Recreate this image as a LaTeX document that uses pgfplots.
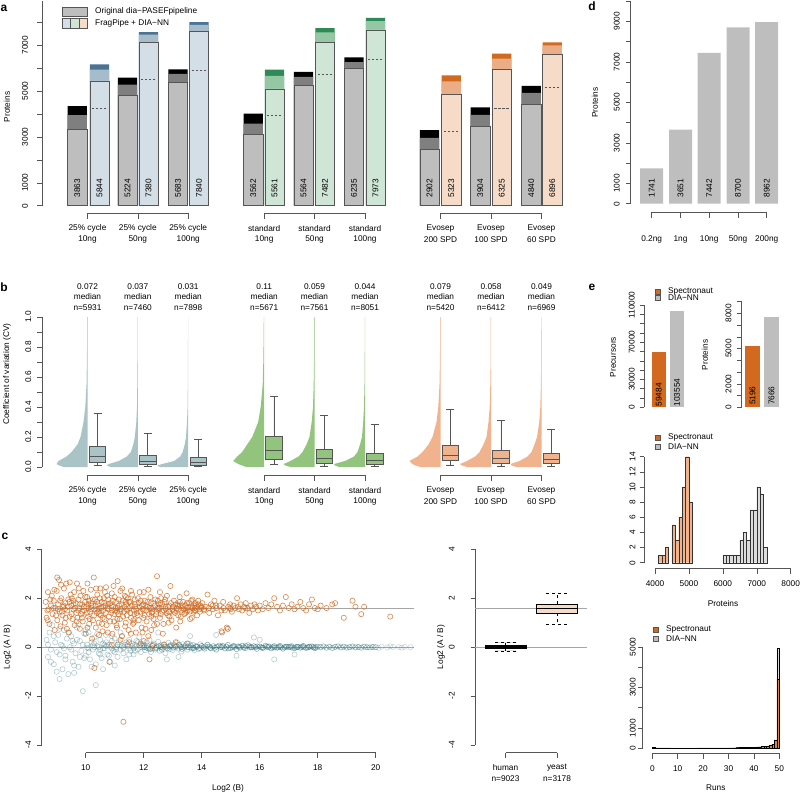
\documentclass[border=0pt]{standalone}
\usepackage{fontspec}
\setmainfont{Liberation Sans}
\usepackage{pgfplots}
\pgfplotsset{compat=1.18}
\usepgfplotslibrary{statistics}
\usepackage{pgfplotstable}
\definecolor{gA}{HTML}{BEBEBE}
\definecolor{gB}{HTML}{7F7F7F}
\definecolor{blA}{HTML}{D4DEE6}
\definecolor{blB}{HTML}{A7BCCB}
\definecolor{blC}{HTML}{4A7394}
\definecolor{grA}{HTML}{CFE6D6}
\definecolor{grB}{HTML}{95C7A5}
\definecolor{grC}{HTML}{2E8B57}
\definecolor{orA}{HTML}{F6DCC8}
\definecolor{orB}{HTML}{EAAD85}
\definecolor{orC}{HTML}{D2691E}
\definecolor{hB}{HTML}{A9C3C6}
\definecolor{hG}{HTML}{93C47D}
\definecolor{hO}{HTML}{F0B38D}
\definecolor{tealc}{HTML}{2F6E78}
\definecolor{axc}{HTML}{555555}
\definecolor{hgrey}{HTML}{DCDCDC}
\def\fs{\fontsize{8.3}{10}\selectfont}
\pgfplotsset{
 R/.style={scale only axis, clip=false, axis x line=none, axis y line*=left, xtick=\empty,
  enlargelimits=false, tick align=outside, major tick length=4.5pt, scaled y ticks=false,
  y axis line style={axc, line width=0.5pt, -}, ytick style={axc, line width=0.5pt},
  yticklabels={},
  boxplot/draw direction=y,
  anchor=south west},
 bb/.style={ybar, bar shift=0pt, bar width=#1, draw=none},
}
\pgfplotstableread{
cv w1 w2 w3 w4 w5 w6 w7 w8 w9
0 0 0 0 0 0 0 0 0 0
0 24 27 28 18 24 26 20 24 25
0.01 28 31 31 22 29 30 25 29 30
0.02 31 29 26 26 31 31 28 31 31
0.04 29 19 14 31 24 20 31 24 22
0.07 21 11 8 27 16 11 23 16 14
0.1 16 7 5.5 22 12 7.5 18 11.5 10
0.15 10 4.5 3.5 17 8 5 12 7.5 7
0.2 7 3 2.2 12 5 3 8 4.5 4.5
0.3 4 1.5 1.2 6 2.8 1.8 4 2.5 2.2
0.4 2.2 0.8 0.6 3.5 1.5 1 2.2 1.3 1.2
0.55 1 0.5 0.4 1.5 0.8 0.5 1 0.7 0.6
0.7 0.6 0.3 0.3 0.9 0.5 0.3 0.6 0.4 0.4
0.85 0.4 0.2 0.2 0.6 0.3 0.2 0.4 0.3 0.3
1 0.3 0.2 0.2 0.4 0.3 0.2 0.3 0.3 0.2
1 0 0 0 0 0 0 0 0 0
}\cvtab
\begin{document}
\fs
\begin{tikzpicture}[x=1pt,y=1pt, t/.style={inner sep=0pt, font=\fs}, L/.style={inner sep=0pt, font=\bfseries\fontsize{12}{14}\selectfont}]
\path[use as bounding box] (0,0) rectangle (800,-793);

% ================= panel a =================
\begin{axis}[R, at={(42pt,-205.7pt)}, width=533pt, height=204.3pt, xmin=42, xmax=575, ymin=0, ymax=8900,
  ytick={0,1000,2000,3000,4000,5000,6000,7000,8000}]
\addplot[bb=19.3, fill=black] coordinates {(77.2,4333)(127.5,5579)(178,5941)(253.3,4014)(303.5,5825)(354,6463)(429.5,3289)(480.3,4289)(531.3,5216)};
\addplot[bb=19.3, fill=gB] coordinates {(77.2,3941)(127.5,5274)(178,5738)(253.3,3579)(303.5,5608)(354,6260)(429.5,2956)(480.3,3956)(531.3,4912)};
\addplot[bb=19.3, fill=gA, draw=axc, line width=0.5pt] coordinates {(77.2,3318)(127.5,4796)(178,5361)(253.3,3101)(303.5,5231)(354,5970)(429.5,2463)(480.3,3449)(531.3,4405)};
\addplot[bb=19.3, fill=blC] coordinates {(99.5,6159)(148.5,7564)(199,7998)};
\addplot[bb=19.3, fill=blB] coordinates {(99.5,5927)(148.5,7448)(199,7883)};
\addplot[bb=19.3, fill=blA, draw=axc, line width=0.5pt] coordinates {(99.5,5434)(148.5,7100)(199,7593)};
\addplot[bb=19.3, fill=grC] coordinates {(274.5,5927)(325,7738)(375.5,8187)};
\addplot[bb=19.3, fill=grB] coordinates {(274.5,5651)(325,7549)(375.5,8042)};
\addplot[bb=19.3, fill=grA, draw=axc, line width=0.5pt] coordinates {(274.5,5086)(325,7129)(375.5,7665)};
\addplot[bb=19.3, fill=orC] coordinates {(451.3,5680)(501.8,6622)(552.2,7115)};
\addplot[bb=19.3, fill=orB] coordinates {(451.3,5419)(501.8,6405)(552.2,6984)};
\addplot[bb=19.3, fill=orA, draw=axc, line width=0.5pt] coordinates {(451.3,4840)(501.8,5941)(552.2,6593)};
\addplot[axc, dash pattern=on 2.4pt off 1.6pt, unbounded coords=jump] coordinates {
(92,4231)(107,4231)(100,nan)(141,5492)(156,5492)(150,nan)(191.5,5883)(206.5,5883)(200,nan)
(267,3927)(282,3927)(280,nan)(317.5,5709)(332.5,5709)(330,nan)(368,6361)(383,6361)(380,nan)
(443.8,3246)(458.8,3246)(450,nan)(494.3,4231)(509.3,4231)(500,nan)(544.7,5144)(559.7,5144)};
\foreach \x/\v in {77.2/3863,99.5/5844,127.5/5224,148.5/7380,178/5683,199/7840,253.3/3562,274.5/5561,303.5/5564,325/7482,354/6235,375.5/7973,429.5/2902,451.3/5323,480.3/3904,501.8/6325,531.3/4840,552.2/6896}
  {\edef\tmp{\noexpand\node[t, rotate=90] at (axis cs:\x,770) {\v};}\tmp}
\end{axis}
\foreach \yy/\l in {205.7/0,182.7/1000,136.8/3000,90.9/5000,45.0/7000} {\node[t, rotate=90] at (25,-\yy) {\l};}
\node[L] at (4,-8) {a};
% legend a
\draw[axc, fill=gA, line width=0.4pt] (62,-7) rectangle (87,-16.5);
\node[t, anchor=west] at (95,-11.5) {Original dia−PASEFpipeline};
\draw[axc, fill=blA, line width=0.4pt] (62,-18.5) rectangle (70.3,-28);
\draw[axc, fill=grA, line width=0.4pt] (70.3,-18.5) rectangle (78.7,-28);
\draw[axc, fill=orA, line width=0.4pt] (78.7,-18.5) rectangle (87,-28);
\node[t, anchor=west] at (95,-23) {FragPipe + DIA−NN};
% brackets a and b
\foreach \yy/\yt in {213.3/218.8,475/480.5} {
 \draw[axc, line width=0.5pt] (87.5,-\yy) -- (188.2,-\yy);
 \draw[axc, line width=0.5pt] (264.2,-\yy) -- (365,-\yy);
 \draw[axc, line width=0.5pt] (440.5,-\yy) -- (541.5,-\yy);
 \foreach \x in {87.5,137.8,188.2,264.2,314.5,365,440.5,491,541.5} \draw[axc, line width=0.5pt] (\x,-\yy) -- (\x,-\yt);
}
\foreach \yy/\yb in {228.7/239.2,490.7/501.2} {
 \node[t] at (87.5,-\yy) {25\% cycle}; \node[t] at (87.5,-\yb) {10ng};
 \node[t] at (137.8,-\yy) {25\% cycle}; \node[t] at (137.8,-\yb) {50ng};
 \node[t] at (188.2,-\yy) {25\% cycle}; \node[t] at (188.2,-\yb) {100ng};
 \node[t] at (264.2,-\yy) {standard}; \node[t] at (264.2,-\yb) {10ng};
 \node[t] at (314.5,-\yy) {standard}; \node[t] at (314.5,-\yb) {50ng};
 \node[t] at (365,-\yy) {standard}; \node[t] at (365,-\yb) {100ng};
 \node[t] at (440.5,-\yy) {Evosep}; \node[t] at (440.5,-\yb) {200 SPD};
 \node[t] at (491,-\yy) {Evosep}; \node[t] at (491,-\yb) {100 SPD};
 \node[t] at (541.5,-\yy) {Evosep}; \node[t] at (541.5,-\yb) {60 SPD};
}
\node[t, rotate=90] at (7,-107) {Proteins};

% ================= panel b =================
\begin{axis}[R, at={(42pt,-467pt)}, width=533pt, height=150pt, xmin=42, xmax=575, ymin=0, ymax=1,
  ytick={0,0.1,0.2,0.3,0.4,0.5,0.6,0.7,0.8,0.9,1}]
\addplot[fill=hB, draw=none] table[x expr=87.5-\thisrow{w1}, y=cv] {\cvtab};
\addplot[fill=hB, draw=none] table[x expr=137.8-\thisrow{w2}, y=cv] {\cvtab};
\addplot[fill=hB, draw=none] table[x expr=188.2-\thisrow{w3}, y=cv] {\cvtab};
\addplot[fill=hG, draw=none] table[x expr=264.2-\thisrow{w4}, y=cv] {\cvtab};
\addplot[fill=hG, draw=none] table[x expr=314.5-\thisrow{w5}, y=cv] {\cvtab};
\addplot[fill=hG, draw=none] table[x expr=365-\thisrow{w6}, y=cv] {\cvtab};
\addplot[fill=hO, draw=none] table[x expr=440.5-\thisrow{w7}, y=cv] {\cvtab};
\addplot[fill=hO, draw=none] table[x expr=491-\thisrow{w8}, y=cv] {\cvtab};
\addplot[fill=hO, draw=none] table[x expr=541.5-\thisrow{w9}, y=cv] {\cvtab};
\pgfplotsset{bx/.style={boxplot prepared={box extend=16.4, whisker extend=8}, draw=axc, line width=0.5pt}}
\addplot[bx, fill=hB, boxplot prepared={draw position=97.5, median=0.073, lower quartile=0.031, upper quartile=0.14, lower whisker=0.011, upper whisker=0.358}] coordinates {};
\addplot[bx, fill=hB, boxplot prepared={draw position=147.6, median=0.037, lower quartile=0.018, upper quartile=0.08, lower whisker=0.005, upper whisker=0.225}] coordinates {};
\addplot[bx, fill=hB, boxplot prepared={draw position=198, median=0.031, lower quartile=0.015, upper quartile=0.065, lower whisker=0.004, upper whisker=0.182}] coordinates {};
\addplot[bx, fill=hG, boxplot prepared={draw position=273.9, median=0.113, lower quartile=0.051, upper quartile=0.207, lower whisker=0.016, upper whisker=0.469}] coordinates {};
\addplot[bx, fill=hG, boxplot prepared={draw position=324.4, median=0.06, lower quartile=0.024, upper quartile=0.118, lower whisker=0.008, upper whisker=0.342}] coordinates {};
\addplot[bx, fill=hG, boxplot prepared={draw position=374.7, median=0.044, lower quartile=0.02, upper quartile=0.091, lower whisker=0.006, upper whisker=0.282}] coordinates {};
\addplot[bx, fill=hO, boxplot prepared={draw position=450.3, median=0.08, lower quartile=0.042, upper quartile=0.145, lower whisker=0.015, upper whisker=0.385}] coordinates {};
\addplot[bx, fill=hO, boxplot prepared={draw position=500.8, median=0.058, lower quartile=0.028, upper quartile=0.115, lower whisker=0.008, upper whisker=0.31}] coordinates {};
\addplot[bx, fill=hO, boxplot prepared={draw position=551, median=0.051, lower quartile=0.022, upper quartile=0.095, lower whisker=0.006, upper whisker=0.251}] coordinates {};
\end{axis}
\foreach \yy/\l in {467/0.0,437/0.2,407/0.4,377/0.6,347/0.8,317/1.0} {\node[t, rotate=90] at (28.3,-\yy) {\l};}
\node[L] at (4,-287) {b};
\node[t, rotate=90] at (7,-374) {Coefficient of variation (CV)};
\foreach \x/\m/\n in {87.5/0.072/5931,137.8/0.037/7460,188.2/0.031/7898,264.2/0.11/5671,314.5/0.059/7561,365/0.044/8051,440.5/0.079/5420,491/0.058/6412,541.5/0.049/6969} {
 \node[t] at (\x,-286.7) {\m}; \node[t] at (\x,-297) {median}; \node[t] at (\x,-307.3) {n=\n};
}

% ================= panel c =================
\begin{axis}[R, at={(41.7pt,-745pt)}, width=372.3pt, height=195.7pt, xmin=8.483, xmax=21.32, ymin=-4, ymax=4,
  ytick={-4,-2,0,2,4}]
\addplot[gray!70, line width=0.6pt] coordinates {(8.483,0)(21.32,0)};
\addplot[gray!70, line width=0.6pt] coordinates {(8.483,1.585)(21.32,1.585)};
\addplot[only marks, mark=o, mark size=2.6pt, mark options={draw=tealc, draw opacity=0.35, line width=0.6pt}] coordinates {
(8.65,0.3)(8.7,-0.4)(8.75,0.6)(8.8,-0.1)(8.85,0.9)(8.9,-0.7)(8.95,0.2)(9.0,-1.0)(9.05,0.5)(9.1,-0.3)(9.15,0.1)(9.2,-0.9)(9.25,0.7)(9.3,-0.5)(9.35,0.35)(9.4,-1.1)(9.45,0.0)(9.5,0.45)(9.55,-0.6)(9.6,0.15)(9.65,-0.25)(9.7,0.8)(9.75,-0.8)(9.8,0.25)(9.85,-0.15)(9.9,-1.8)(9.95,0.55)
(10.0,-0.35)(10.05,0.1)(10.1,0.6)(10.15,-0.5)(10.2,0.2)(10.25,-0.1)(10.3,0.4)(10.35,-0.7)(10.4,0.05)(10.45,-0.25)(10.5,0.3)(10.55,-0.45)(10.6,0.15)(10.65,-0.05)(10.7,0.5)(10.75,-0.3)(10.8,0.1)(10.85,-0.6)(10.9,0.25)(10.95,-0.15)(11.0,0.35)(11.05,0.0)(11.1,-0.4)(11.15,0.2)(11.2,-0.1)(11.25,0.45)(11.3,-0.25)(11.35,0.1)(11.4,-0.5)(11.45,0.05)(11.5,0.3)(11.55,-0.15)(11.6,0.15)(11.65,-0.3)(11.7,0.0)(11.75,0.25)(11.8,-0.1)(11.85,0.4)(11.9,-0.2)(11.95,0.05)
(10.1,-0.05)(10.3,0.0)(10.5,-0.1)(10.7,0.05)(10.9,-0.05)(11.1,0.1)(11.3,0.0)(11.5,-0.05)(11.7,0.1)(11.9,0.0)
(8.7,0.1)(8.8,-0.6)(8.9,0.45)(9.0,-0.2)(9.1,0.75)(9.2,0.05)(9.3,-0.35)(9.4,0.6)(9.5,-0.1)(9.6,-0.75)(9.7,0.3)(9.8,-0.4)(9.9,0.1)(10.0,0.7)(10.1,-0.2)(10.2,-0.8)(10.3,0.15)(10.4,0.55)(10.5,-0.3)(10.6,-0.05)(10.7,0.2)(10.8,-0.35)(10.9,0.45)(11.0,-0.2)(11.1,0.1)(11.2,0.6)(11.3,-0.05)(11.4,0.2)(11.5,-0.3)(11.6,0.05)(11.7,-0.15)(11.8,0.2)(11.9,0.1)(10.05,-0.02)(10.25,0.08)(10.45,0.0)(10.65,0.1)(10.85,0.02)(11.05,-0.08)(11.25,0.05)(11.45,0.12)(11.65,-0.05)(11.85,0.07)
(9.1,-1.3)(9.6,-1.05)(10.35,-1.55)(9.75,0.95)(10.6,-0.9)(11.0,-0.75)(9.25,-0.05)(9.55,0.25)(9.95,-0.45)
(12.0,0.1)(12.05,-0.12)(12.1,0.2)(12.15,-0.05)(12.2,0.3)(12.25,-0.2)(12.3,0.05)(12.35,0.15)(12.4,-0.1)(12.45,0.0)(12.5,0.22)(12.55,-0.15)(12.6,0.08)(12.65,-0.03)(12.7,0.12)(12.75,-0.25)(12.8,0.02)(12.85,0.18)(12.9,-0.08)(12.95,0.05)(13.0,-0.12)(13.05,0.1)(13.1,0.0)(13.15,0.2)(13.2,-0.06)(13.25,0.04)(13.3,-0.18)(13.35,0.12)(13.4,-0.02)(13.45,0.08)(13.5,-0.1)(13.55,0.15)(13.6,0.0)(13.65,-0.05)(13.7,0.1)(13.75,-0.12)(13.8,0.05)(13.85,0.02)(13.9,-0.08)(13.95,0.12)
(12.5,0.6)(13.2,-0.4)(12.8,-0.5)(13.6,0.45)
(14.5,0.5)(15.2,-0.35)(16.5,-0.5)(14.9,0.75)(15.8,0.4)(17.2,-0.3)(16.0,0.3)
};
\addplot[only marks, mark=o, mark size=2.6pt, mark options={draw=tealc, draw opacity=0.55, line width=0.6pt}] coordinates {
(12.1,-0.02)(12.3,-0.05)(12.6,0.0)(12.9,0.03)(13.3,0.01)(13.7,-0.02)
(12.02,0.0)(12.12,0.06)(12.22,-0.08)(12.32,0.1)(12.42,-0.04)(12.52,0.04)(12.62,-0.1)(12.72,0.02)(12.82,-0.05)(12.92,0.08)(13.02,-0.02)(13.12,0.05)(13.22,0.1)(13.32,-0.07)(13.42,0.03)(13.52,0.0)(13.62,0.07)(13.72,-0.04)(13.82,0.02)(13.92,-0.03)
(14.0,0.05)(14.1,-0.06)(14.2,0.1)(14.3,-0.02)(14.4,0.04)(14.5,-0.1)(14.6,0.07)(14.7,0.0)(14.8,-0.05)(14.9,0.09)(15.0,-0.03)(15.1,0.05)(15.2,-0.08)(15.3,0.02)(15.4,0.06)(15.5,-0.04)(15.6,0.08)(15.7,-0.01)(15.8,0.04)(15.9,-0.07)(16.0,0.03)(16.1,-0.03)(16.2,0.06)(16.3,0.0)(16.4,-0.05)(16.5,0.04)(16.6,-0.02)(16.7,0.05)(16.8,-0.06)(16.9,0.02)(17.0,0.0)(17.1,0.04)(17.2,-0.04)(17.3,0.02)(17.4,-0.02)(17.5,0.05)(17.6,-0.03)(17.7,0.01)(17.8,0.03)(17.9,-0.04)(18.0,0.02)
(14.05,-0.01)(14.25,0.02)(14.45,-0.03)(14.65,0.01)(14.85,0.02)(15.05,0.0)(15.25,0.03)(15.45,-0.01)(15.65,0.02)(15.85,0.0)(16.05,-0.01)(16.25,0.02)(16.45,0.0)(16.65,0.01)(16.85,-0.01)(17.05,0.02)(17.25,0.0)(17.45,0.01)(17.65,-0.01)(17.85,0.0)
(14.12,0.03)(14.32,-0.05)(14.52,0.02)(14.72,0.05)(14.92,-0.04)(15.12,0.01)(15.32,-0.02)(15.52,0.04)(15.72,0.0)(15.92,0.03)(16.12,-0.02)(16.32,0.03)(16.52,-0.01)(16.72,0.0)(16.92,0.02)(17.12,-0.02)(17.32,0.01)(17.52,0.0)(17.72,0.02)(17.92,0.0)
(18.1,0.0)(18.2,0.03)(18.3,-0.02)(18.4,0.02)(18.5,-0.03)(18.6,0.01)(18.7,0.03)(18.8,-0.01)(18.9,0.02)(19.0,-0.02)(19.1,0.0)(19.2,0.03)(19.3,-0.01)(19.4,0.01)(19.5,-0.02)(19.6,0.02)(19.7,0.0)(19.8,-0.01)(19.9,0.01)(20.0,0.0)
};
\addplot[only marks, mark=o, mark size=2.6pt, mark options={draw=tealc, draw opacity=0.25, line width=0.6pt}] coordinates {
(20.2,0.02)(20.4,-0.01)(20.6,0.01)(20.8,0.0)(21.0,0.01)(21.2,0.0)(20.1,-0.03)(20.5,0.03)(20.9,-0.02)
};
\addplot[only marks, mark=o, mark size=2.6pt, mark options={draw=orC, draw opacity=0.8, line width=0.6pt}] coordinates {
(8.62,1.85)(8.65,1.2)(8.7,2.25)(8.72,1.55)(8.75,0.95)(8.8,1.7)(8.83,2.1)(8.86,1.35)(8.9,1.9)(8.93,0.7)(8.96,1.6)(9.0,2.3)(9.02,1.1)(9.05,1.75)(9.08,2.75)(9.1,1.45)(9.13,0.85)(9.16,2.0)(9.2,1.3)(9.22,1.65)(9.25,2.4)(9.28,1.0)(9.3,1.8)(9.33,2.6)(9.36,1.5)(9.4,1.95)(9.42,0.6)(9.45,1.25)(9.48,2.15)
(9.5,1.7)(9.52,2.0)(9.55,1.15)(9.58,1.55)(9.6,2.25)(9.62,0.9)(9.65,1.8)(9.68,1.4)(9.7,2.6)(9.72,1.2)(9.75,1.95)(9.78,1.6)(9.8,0.75)(9.82,2.1)(9.85,1.35)(9.88,1.75)(9.9,1.05)(9.92,2.3)(9.95,1.5)(9.98,1.85)(10.0,0.55)(10.02,1.65)(10.05,2.05)(10.08,1.25)(10.1,1.9)(10.12,0.95)(10.15,1.45)(10.18,2.35)(10.2,1.7)(10.22,0.35)(10.25,1.1)(10.28,2.85)(10.3,1.55)(10.32,1.95)(10.35,0.8)(10.38,1.4)(10.4,2.15)(10.42,1.75)(10.45,1.0)(10.48,1.6)
(10.5,2.4)(10.52,1.3)(10.55,1.85)(10.58,0.65)(10.6,1.5)(10.62,2.0)(10.65,1.15)(10.68,1.7)(10.7,2.45)(10.72,0.9)(10.75,1.6)(10.78,1.95)(10.8,1.25)(10.82,-0.6)(10.85,1.8)(10.88,1.4)(10.9,2.2)(10.92,0.55)(10.95,1.65)(10.98,1.05)(11.0,2.05)(11.02,1.5)(11.05,1.85)(11.08,0.8)(11.1,2.7)(11.12,1.35)(11.15,1.7)(11.18,1.15)(11.2,2.3)(11.22,1.55)(11.25,0.45)(11.28,1.9)(11.3,-3.05)(11.32,1.45)(11.35,2.1)(11.38,1.0)(11.4,1.75)(11.42,1.3)(11.45,2.0)(11.48,0.7)
(11.5,1.6)(11.53,1.85)(11.56,1.2)(11.6,2.15)(11.63,0.95)(11.66,1.5)(11.7,1.75)(11.73,0.6)(11.76,1.4)(11.8,2.0)(11.83,1.1)(11.86,1.65)(11.9,1.9)(11.93,0.8)(11.96,1.55)(12.0,2.25)(12.03,1.3)(12.06,1.7)(12.1,1.05)(12.13,1.85)(12.16,0.45)(12.2,1.6)(12.23,2.05)(12.26,1.25)(12.3,1.45)(12.33,1.8)(12.36,0.9)(12.4,1.95)(12.43,1.35)(12.46,2.9)(12.48,1.6)
(12.52,1.75)(12.56,1.2)(12.6,2.0)(12.64,1.45)(12.68,0.95)(12.72,1.85)(12.76,1.55)(12.8,2.1)(12.84,1.3)(12.88,1.7)(12.92,2.5)(12.96,1.1)(13.0,1.65)(13.04,1.9)(13.08,1.4)(13.12,0.8)(13.16,1.75)(13.2,1.55)(13.24,2.05)(13.28,1.25)(13.32,1.6)(13.36,1.85)(13.4,1.35)(13.44,1.7)(13.48,2.2)(13.52,1.5)(13.56,1.8)(13.6,1.15)(13.64,1.65)(13.68,1.95)(13.72,1.45)(13.76,1.6)(13.8,1.75)(13.84,1.3)(13.88,1.9)(13.92,1.55)(13.96,1.7)
(14.02,1.8)(14.08,1.5)(14.14,1.65)(14.2,2.15)(14.26,1.4)(14.32,1.75)(14.38,1.55)(14.44,1.9)(14.5,1.6)(14.56,1.3)(14.62,1.7)(14.68,0.65)(14.74,1.85)(14.8,1.5)(14.86,0.8)(14.92,1.65)(14.98,1.75)(15.04,1.45)(15.1,1.7)(15.16,1.6)(15.22,2.0)(15.28,1.55)(15.34,1.75)(15.4,1.5)(15.46,1.65)(15.52,1.8)(15.58,1.6)(15.64,1.4)(15.7,1.7)(15.76,1.55)(15.82,1.75)(15.88,1.65)(15.94,1.5)
(16.0,1.7)(16.1,1.55)(16.2,1.8)(16.3,1.6)(16.4,1.75)(16.5,2.0)(16.6,1.65)(16.7,1.5)(16.8,1.7)(16.9,2.05)(17.0,1.6)(17.1,1.75)(17.2,1.55)(17.3,1.65)(17.4,1.85)(17.5,1.6)(17.6,1.5)(17.7,1.75)(17.8,1.95)(17.9,1.6)(18.0,1.55)(18.1,1.7)(18.3,1.6)(18.5,1.75)(18.6,1.8)(18.9,1.2)(19.2,1.9)(19.3,1.65)(19.5,1.35)(19.6,1.65)(20.5,1.25)
(11.5,0.2)(11.9,0.15)(12.3,0.05)(12.7,0.1)(13.1,0.2)(10.9,0.1)(11.2,0.3)(12.0,0.25)(13.5,0.15)(10.3,-0.85)(12.2,-0.5)(14.7,0.6)(14.9,0.75)
(10.1,1.6)(10.4,1.55)(10.6,1.65)(10.9,1.5)(11.1,1.6)(11.4,1.55)(11.7,1.65)(12.0,1.5)(12.25,1.6)(12.5,1.55)(12.75,1.65)(13.0,1.5)(13.25,1.7)(13.5,1.6)(13.75,1.5)(14.0,1.65)(14.25,1.6)(14.5,1.7)(14.75,1.6)(15.0,1.55)(15.25,1.65)(15.5,1.6)
(9.05,1.55)(9.12,1.9)(9.18,1.45)(9.24,1.7)(9.31,1.2)(9.38,1.65)(9.44,1.85)(9.51,1.35)(9.57,1.9)(9.63,1.6)(9.69,1.05)(9.74,1.5)(9.81,1.75)(9.87,1.2)(9.93,1.65)(9.99,2.05)(10.04,1.4)(10.09,1.75)(10.14,1.15)(10.19,1.55)(10.24,1.95)(10.29,1.3)(10.34,1.7)(10.39,1.85)(10.44,1.45)(10.49,2.0)(10.54,1.6)(10.59,1.2)(10.64,1.8)(10.69,1.4)(10.74,2.1)(10.79,1.55)(10.84,1.05)(10.89,1.7)(10.94,1.9)(10.99,1.35)(11.04,1.6)(11.09,1.15)(11.14,1.95)(11.19,1.45)(11.24,1.75)(11.29,1.25)(11.34,1.65)(11.39,2.05)(11.44,1.5)(11.49,1.85)(11.54,1.4)(11.59,1.7)(11.64,1.1)(11.69,1.95)(11.74,1.55)(11.79,1.3)(11.84,1.8)(11.89,1.45)(11.94,1.7)(11.99,1.2)
(12.04,1.9)(12.09,1.5)(12.14,1.65)(12.19,1.35)(12.24,1.8)(12.29,1.55)(12.34,1.15)(12.39,1.7)(12.44,1.45)(12.49,1.9)(12.54,1.6)(12.59,1.35)(12.64,1.75)(12.69,1.5)(12.74,1.95)(12.79,1.4)(12.84,1.65)(12.89,1.25)(12.94,1.8)(12.99,1.55)(13.04,1.45)(13.09,1.75)(13.14,1.6)(13.19,1.3)(13.24,1.85)(13.29,1.5)(13.34,1.7)(13.39,1.55)(13.44,1.4)(13.49,1.8)(13.54,1.65)(13.59,1.45)(13.64,1.9)(13.69,1.6)(13.74,1.7)(13.79,1.5)(13.84,1.65)(13.89,1.75)(13.94,1.45)(13.99,1.6)
(8.68,1.5)(8.78,1.95)(8.88,1.6)(8.98,1.3)(8.69,1.1)(8.92,2.35)(9.15,2.55)(9.45,2.65)(9.02,2.85)(9.35,0.75)(9.76,2.4)(10.06,2.6)(10.36,2.4)(10.66,2.25)(10.96,2.5)(11.26,2.4)(11.56,2.3)(11.86,2.25)(12.16,2.35)(12.56,2.25)(10.06,0.8)(10.56,0.95)(11.06,0.9)(11.36,0.85)(11.66,1.0)(12.06,0.75)(12.46,0.95)(12.86,1.0)(13.26,1.05)(13.66,1.2)(10.46,0.5)(10.76,0.6)(11.56,0.55)(11.96,0.6)(12.26,0.7)(12.66,0.55)
(9.28,1.55)(9.58,1.75)(9.88,1.45)(10.18,1.8)(10.48,1.35)(10.78,1.75)(11.08,1.45)(11.38,1.85)(11.68,1.35)(11.98,1.75)(12.28,1.4)(12.58,1.8)(12.88,1.45)(13.18,1.7)(13.48,1.45)(13.78,1.8)(14.08,1.55)(14.38,1.7)(14.68,1.5)(14.98,1.6)
};
\end{axis}
\foreach \yy/\l in {744.8/-4,695.9/-2,647/0,598.1/2,549.2/4} {\node[t, rotate=90] at (28.3,-\yy) {\l}; \node[t, rotate=90] at (451.7,-\yy) {\l};}
\node[L] at (5,-536) {c};
\node[t, rotate=90] at (7.5,-647) {Log2 (A / B)};
\draw[axc, line width=0.5pt] (85.7,-752.7) -- (375.7,-752.7);
\foreach \x/\l in {85.7/10,143.7/12,201.7/14,259.7/16,317.7/18,375.7/20} {\draw[axc, line width=0.5pt] (\x,-752.7) -- (\x,-758.2); \node[t] at (\x,-767.7) {\l};}
\node[t] at (228,-788) {Log2 (B)};

\begin{axis}[R, at={(475pt,-745pt)}, width=112pt, height=195.7pt, xmin=0.408, xmax=2.583, ymin=-4, ymax=4,
  ytick={-4,-2,0,2,4}]
\addplot[gray!70, line width=0.6pt] coordinates {(0.408,0)(2.583,0)};
\addplot[gray!70, line width=0.6pt] coordinates {(0.408,1.585)(2.583,1.585)};
\addplot[black, fill=black, line width=0.6pt, boxplot prepared={draw position=1, median=0.0, lower quartile=-0.05, upper quartile=0.06, lower whisker=-0.15, upper whisker=0.18, box extend=0.8, whisker extend=0.41, every whisker/.style={dashed}}] coordinates {};
\addplot[black, fill=orA, line width=0.6pt, boxplot prepared={draw position=2, median=1.58, lower quartile=1.40, upper quartile=1.755, lower whisker=0.94, upper whisker=2.22, box extend=0.8, whisker extend=0.41, every whisker/.style={dashed}, every median/.style={line width=1.6pt}}] coordinates {};
\end{axis}
\node[t, rotate=90] at (441,-647) {Log2 (A / B)};
\draw[axc, line width=0.5pt] (505.5,-752.7) -- (557,-752.7);
\draw[axc, line width=0.5pt] (505.5,-752.7) -- (505.5,-758.2);
\draw[axc, line width=0.5pt] (557,-752.7) -- (557,-758.2);
\node[t] at (505.5,-768) {human}; \node[t] at (505.5,-778.3) {n=9023};
\node[t] at (557,-768) {yeast}; \node[t] at (557,-778.3) {n=3178};

% ================= panel d =================
\begin{axis}[R, at={(630.7pt,-203.7pt)}, width=154.3pt, height=202.7pt, xmin=630.7, xmax=785, ymin=0, ymax=10000,
  ytick={0,1000,2000,3000,4000,5000,6000,7000,8000,9000,10000}]
\addplot[bb=23, fill=gA] coordinates {(651.7,1741)(680.5,3651)(709.2,7442)(738,8700)(766.7,8962)};
\foreach \x/\v in {651.7/1741,680.5/3651,709.2/7442,738/8700,766.7/8962}
  {\edef\tmp{\noexpand\node[t, rotate=90] at (axis cs:\x,775) {\v};}\tmp}
\end{axis}
\foreach \yy/\l in {203.7/0,183.4/1000,142.9/3000,102.35/5000,61.8/7000,21.3/9000} {\node[t, rotate=90] at (616.7,-\yy) {\l};}
\node[L] at (592,-6) {d};
\node[t, rotate=90] at (595,-102.5) {Proteins};
\draw[axc, line width=0.5pt] (651.7,-212.3) -- (766.7,-212.3);
\foreach \x/\l in {651.7/0.2ng,680.5/1ng,709.2/10ng,738/50ng,766.7/200ng} {\draw[axc, line width=0.5pt] (\x,-212.3) -- (\x,-217.8); \node[t] at (\x,-239.3) {\l};}

% ================= panel e =================
\node[L] at (592,-287) {e};
\begin{axis}[R, at={(644pt,-407.3pt)}, width=46pt, height=102.3pt, xmin=644, xmax=690, ymin=0, ymax=110000,
  ytick={0,10000,20000,30000,40000,50000,60000,70000,80000,90000,100000,110000}]
\addplot[bb=14, fill=orC] coordinates {(658.7,59484)};
\addplot[bb=14, fill=gA] coordinates {(677,103554)};
\node[t, rotate=90, anchor=west] at (axis cs:658.7,800) {59484};
\node[t, rotate=90, anchor=west] at (axis cs:677,800) {103554};
\end{axis}
\foreach \yy/\l in {407.3/0,379.4/30000,342.2/70000,305/110000} {\node[t, rotate=90] at (631.7,-\yy) {\l};}
\node[t, rotate=90] at (613,-357) {Precursors};
\begin{axis}[R, at={(741.7pt,-407.3pt)}, width=43.3pt, height=105.75pt, xmin=741.7, xmax=785, ymin=0, ymax=9000,
  ytick={0,1000,2000,3000,4000,5000,6000,7000,8000,9000}]
\addplot[bb=15, fill=orC] coordinates {(752.5,5196)};
\addplot[bb=15, fill=gA] coordinates {(771.5,7666)};
\node[t, rotate=90, anchor=west] at (axis cs:752.5,180) {5196};
\node[t, rotate=90, anchor=west] at (axis cs:771.5,180) {7666};
\end{axis}
\foreach \yy/\l in {407.3/0,383.8/2000,348.55/5000,313.3/8000} {\node[t, rotate=90] at (728.5,-\yy) {\l};}
\node[t, rotate=90] at (705,-355) {Proteins};
% legends e
\foreach \yy/\c/\l in {291.3/orC/Spectronaut,298/gA/DIA−NN} {\draw[axc, fill=\c, line width=0.3pt] (655.5,-\yy+2.4) rectangle (660.3,-\yy-2.4); \node[t, anchor=west] at (668,-\yy) {\l};}
\foreach \yy/\c/\l in {437.7/orC/Spectronaut,446.7/gA/DIA−NN} {\draw[axc, fill=\c, line width=0.3pt] (655.5,-\yy+2.4) rectangle (660.3,-\yy-2.4); \node[t, anchor=west] at (668,-\yy) {\l};}
\foreach \yy/\c/\l in {629.3/orC/Spectronaut,638.3/gA/DIA−NN} {\draw[axc, fill=\c, line width=0.3pt] (653.5,-\yy+2.4) rectangle (658.3,-\yy-2.4); \node[t, anchor=west] at (666,-\yy) {\l};}

\begin{axis}[R, at={(644pt,-562.7pt)}, width=150.9pt, height=106pt, xmin=3676, xmax=8127, ymin=0, ymax=14,
  ytick={0,2,4,6,8,10,12,14}]
\addplot[bb=100, fill=hO, draw=black!80, line width=0.4pt] coordinates {(4150,1)(4250,1)(4350,2)(4550,5)(4650,3)(4750,6)(4850,10)(4950,14)(5050,8)};
\addplot[bb=100, fill=hgrey, draw=black!80, line width=0.4pt] coordinates {(6050,1)(6150,1)(6250,1)(6350,1)(6450,1)(6550,3)(6650,4)(6750,3)(6850,7)(6950,7)(7050,10)(7150,9)(7250,2)};
\end{axis}
\foreach \yy/\l in {562.7/0,547.6/2,532.4/4,517.3/6,502.1/8,487/10,471.8/12,456.7/14} {\node[t, rotate=90] at (632.5,-\yy) {\l};}
\draw[axc, line width=0.5pt] (655,-568.3) -- (790.7,-568.3);
\foreach \x/\l in {655/4000,688.9/5000,722.8/6000,756.8/7000,790.7/8000} {\draw[axc, line width=0.5pt] (\x,-568.3) -- (\x,-573.8); \node[t] at (\x,-583.3) {\l};}
\node[t] at (723,-604) {Proteins};

\begin{axis}[R, at={(642.7pt,-748.3pt)}, width=142.2pt, height=101.5pt, xmin=-3.78, xmax=52.2, ymin=0, ymax=5000,
  ytick={0,1000,2000,3000,4000,5000}]
\addplot[bb=1, fill=hgrey, draw=black, line width=0.35pt] coordinates {
(0.5,70)(1.5,30)(2.5,25)(3.5,22)(4.5,20)(5.5,20)(6.5,18)(7.5,18)(8.5,17)(9.5,17)(10.5,16)(11.5,16)(12.5,16)(13.5,16)(14.5,16)(15.5,17)(16.5,17)(17.5,17)(18.5,18)(19.5,18)(20.5,19)(21.5,19)(22.5,20)(23.5,20)(24.5,21)(25.5,22)(26.5,23)(27.5,24)(28.5,25)(29.5,26)(30.5,27)(31.5,28)(32.5,30)(33.5,32)(34.5,34)(35.5,36)(36.5,38)(37.5,41)(38.5,44)(39.5,48)(40.5,53)(41.5,58)(42.5,65)(43.5,75)(44.5,90)(45.5,110)(46.5,140)(47.5,190)(48.5,410)(49.5,4926)};
\addplot[bb=1, fill=orC!80!white, draw=black, line width=0.35pt] coordinates {
(0.5,60)(1.5,25)(2.5,21)(3.5,19)(4.5,17)(5.5,17)(6.5,16)(7.5,15)(8.5,15)(9.5,14)(10.5,14)(11.5,14)(12.5,14)(13.5,14)(14.5,14)(15.5,15)(16.5,15)(17.5,15)(18.5,16)(19.5,16)(20.5,17)(21.5,17)(22.5,18)(23.5,18)(24.5,19)(25.5,20)(26.5,21)(27.5,22)(28.5,23)(29.5,24)(30.5,25)(31.5,27)(32.5,29)(33.5,31)(34.5,34)(35.5,37)(36.5,41)(37.5,45)(38.5,50)(39.5,56)(40.5,62)(41.5,70)(42.5,80)(43.5,92)(44.5,105)(45.5,120)(46.5,145)(47.5,190)(48.5,380)(49.5,3399)};
\end{axis}
\foreach \yy/\l in {748.3/0,728/1000,687.4/3000,646.8/5000} {\node[t, rotate=90] at (632.7,-\yy) {\l};}
\draw[axc, line width=0.5pt] (652.3,-753.3) -- (779.3,-753.3);
\foreach \x/\l in {652.3/0,677.7/10,703.1/20,728.5/30,753.9/40,779.3/50} {\draw[axc, line width=0.5pt] (\x,-753.3) -- (\x,-758.8); \node[t] at (\x,-768.3) {\l};}
\node[t] at (715.8,-787.3) {Runs};
\end{tikzpicture}
\end{document}
